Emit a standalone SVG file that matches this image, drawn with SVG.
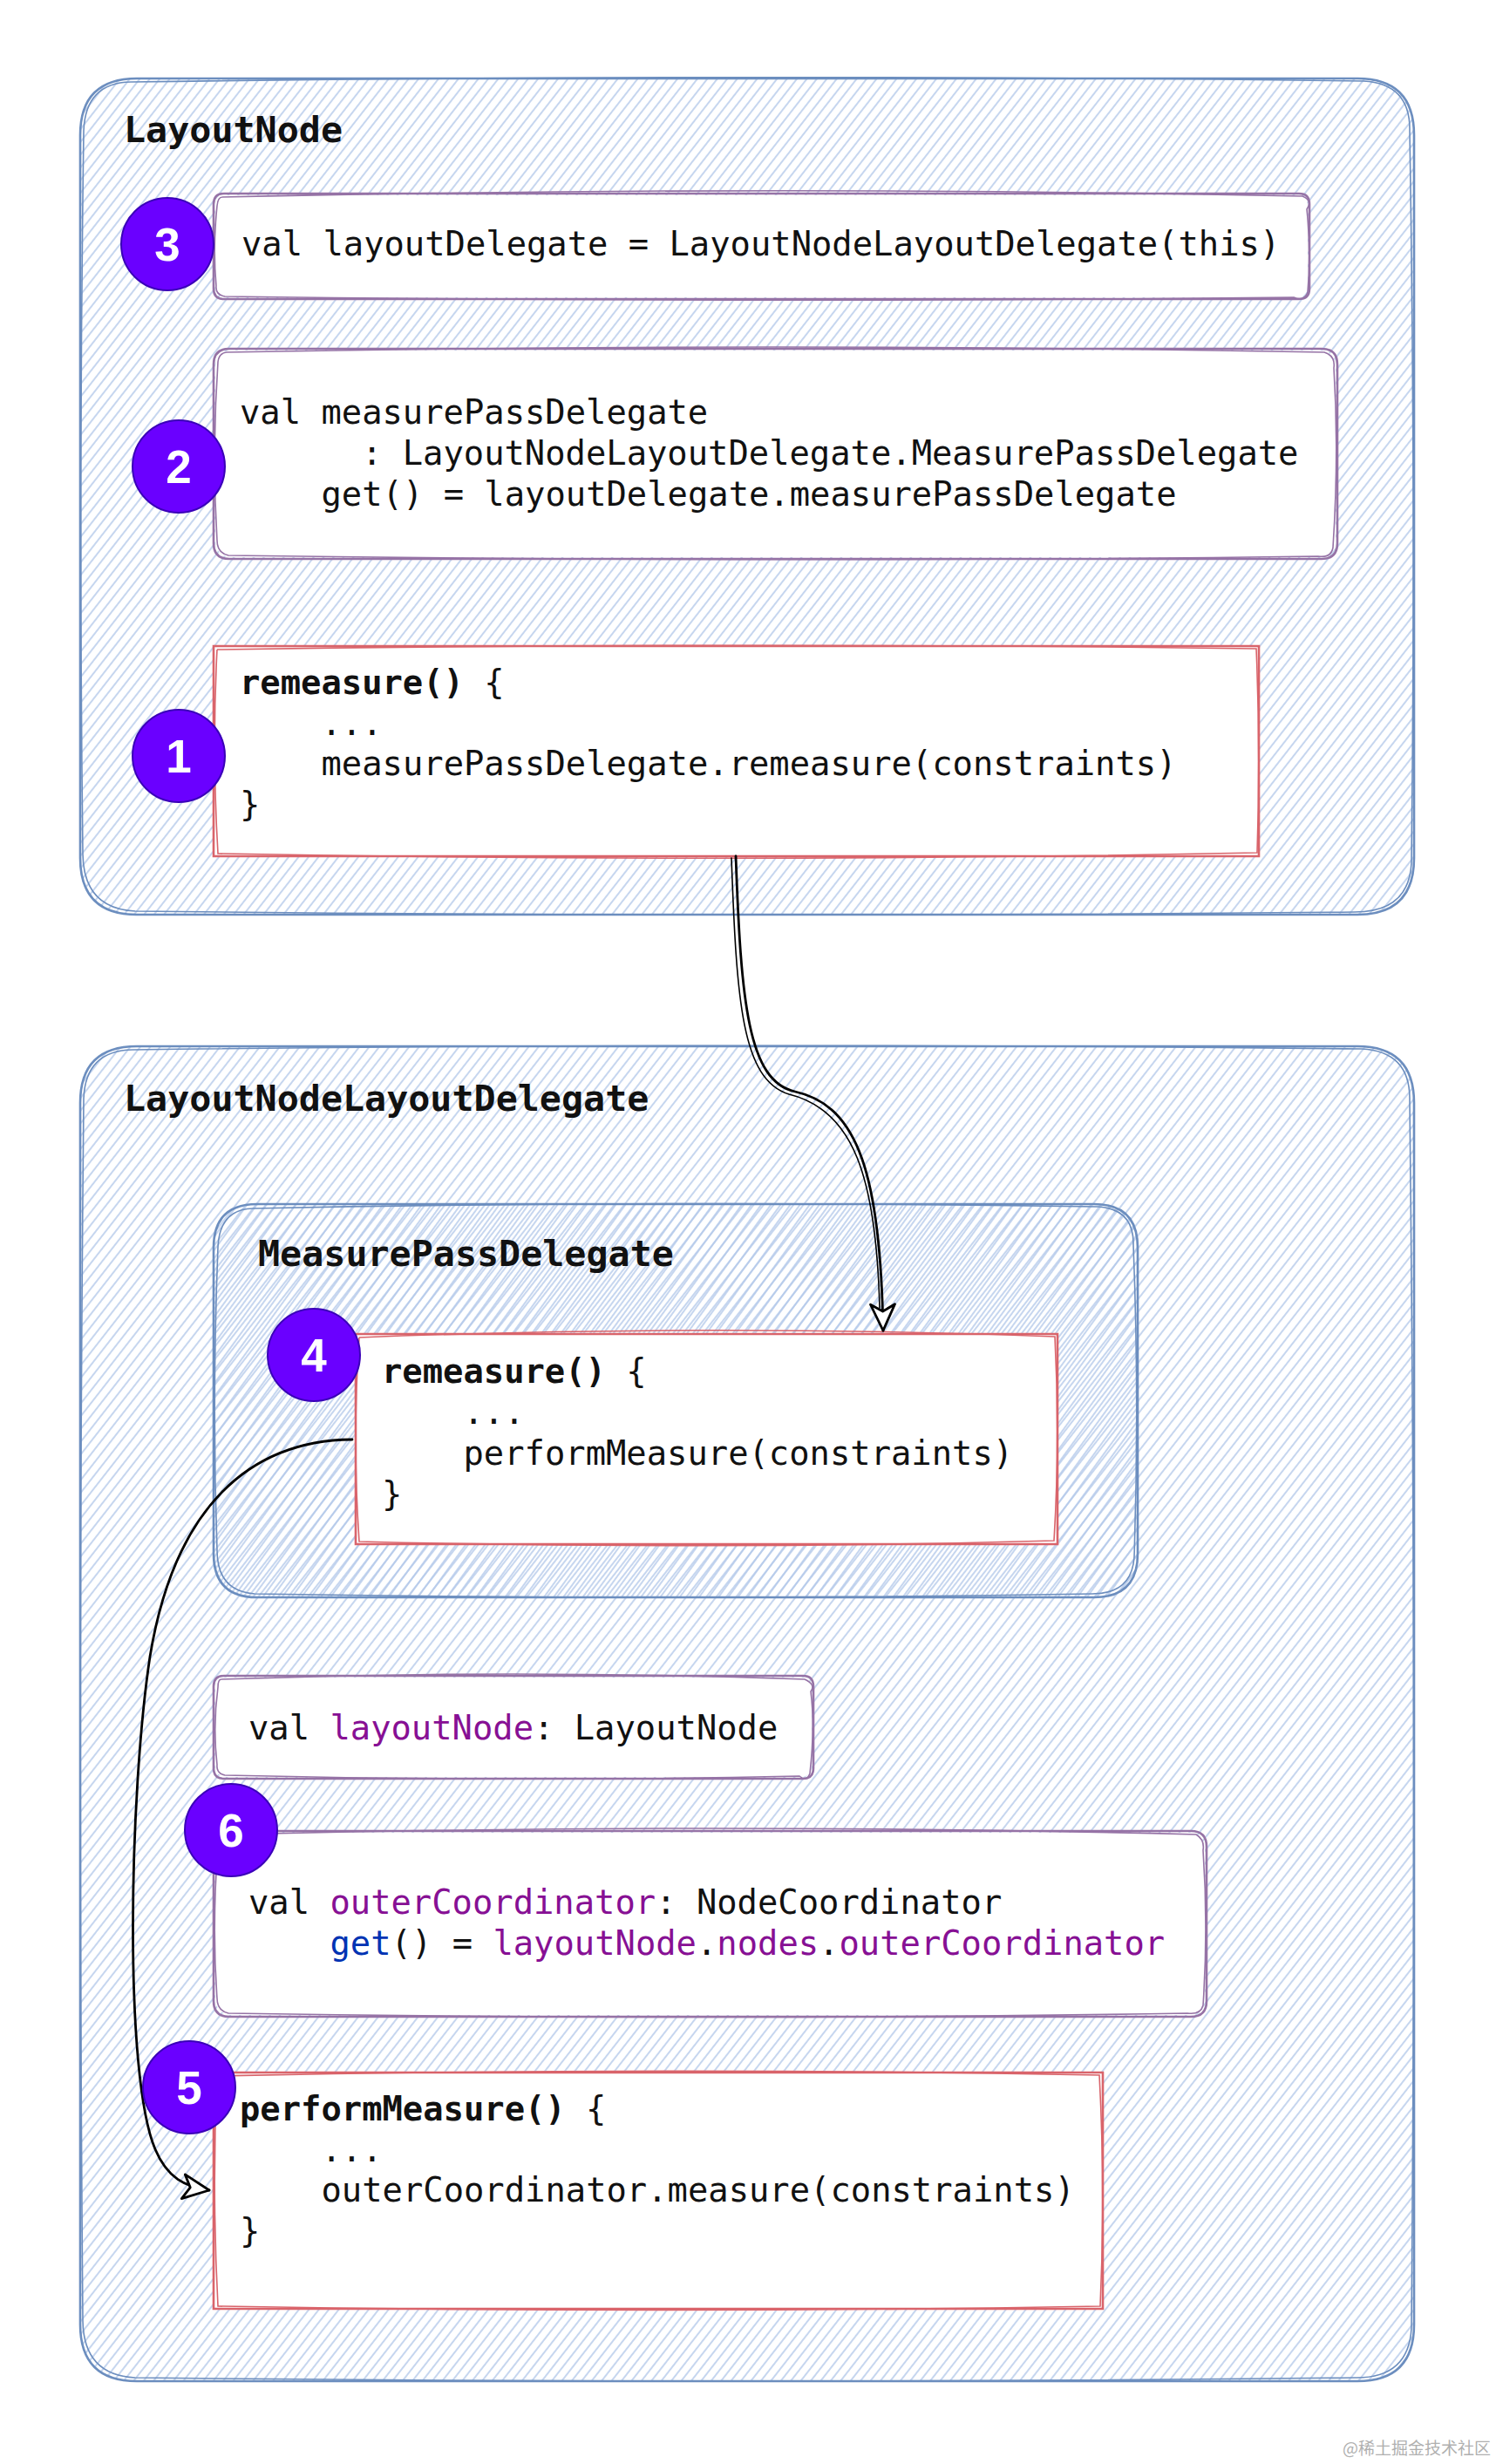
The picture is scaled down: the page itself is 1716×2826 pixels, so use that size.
<svg xmlns="http://www.w3.org/2000/svg" width="1716" height="2826" viewBox="0 0 1716 2826">
<defs>
<style>
.blue{fill:none;stroke:#6c8ebf;stroke-width:2.6;stroke-linejoin:round}
.blue2{fill:none;stroke:#6c8ebf;stroke-width:1.6}
.purple{fill:none;stroke:#9673a6;stroke-width:2.6;stroke-linejoin:round}
.purple2{fill:none;stroke:#9673a6;stroke-width:1.6}
.red{fill:none;stroke:#d9646b;stroke-width:2.6}
.red2{fill:none;stroke:#d9646b;stroke-width:1.6}
.wbg{fill:#ffffff;stroke:none}
.code{font-family:"DejaVu Sans Mono","Liberation Mono",monospace;font-size:38.8px;fill:#111111}
.b{font-weight:bold}
.title{font-family:"DejaVu Sans Mono","Liberation Mono",monospace;font-weight:bold;font-size:41.7px;fill:#111111}
.num{font-family:"Liberation Sans",Arial,sans-serif;font-weight:bold;font-size:53px;fill:#ffffff;text-anchor:middle}
.circ{fill:#6a00ff;stroke:#3a00b8;stroke-width:2}
.pu{fill:#871094}
.kw{fill:#0033b3}
.wire{fill:none;stroke:#000000;stroke-width:2.8;stroke-linecap:round}
.wire2{fill:none;stroke:#000000;stroke-width:1.6;stroke-linecap:round}
.wm{font-family:"Noto Sans CJK SC","Noto Sans",sans-serif;font-size:19px;fill:#b0b0b0;text-anchor:end}
</style>
<pattern id="hach" patternUnits="userSpaceOnUse" width="9" height="9" patternTransform="rotate(38)">
<line x1="2" y1="0" x2="2" y2="9" stroke="#b3c8ea" stroke-width="1.5"/>
</pattern>
<pattern id="hach2" patternUnits="userSpaceOnUse" width="9" height="9" patternTransform="rotate(36) translate(4.5 0)">
<line x1="2" y1="0" x2="2" y2="9" stroke="#b3c8ea" stroke-width="1.5"/>
</pattern>
<marker id="arr" markerUnits="userSpaceOnUse" viewBox="-34 -18 38 36" refX="0" refY="0" markerWidth="38" markerHeight="36" orient="auto">
<path d="M0,0 L-30,-14 L-22,0 L-30,14 Z" fill="#ffffff" stroke="#000000" stroke-width="2.8" stroke-linejoin="round"/>
</marker>
</defs>
<rect x="0" y="0" width="1716" height="2826" fill="#ffffff"/>

<g id="layoutNode">
<path d="M157,90 L1557,90 Q1622,90 1622,155 L1622,984 Q1622,1049 1557,1049 L157,1049 Q92,1049 92,984 L92,155 Q92,90 157,90 Z" fill="url(#hach)"/>
<path class="blue" d="M157,90 L1557,90 Q1622,90 1622,155 L1622,984 Q1622,1049 1557,1049 L157,1049 Q92,1049 92,984 L92,155 Q92,90 157,90 Z"/>
<path class="blue2" d="M150,94 Q860,84 1564,93 Q1618,96 1617,150 Q1624,570 1619,990 Q1616,1046 1554,1046 Q860,1053 155,1045 Q96,1042 95,980 Q90,570 96,150 Q98,95 150,94"/>
<text class="title" x="142" y="163">LayoutNode</text>
</g>

<g id="layoutNodeLayoutDelegate">
<path d="M157,1200 L1557,1200 Q1622,1200 1622,1265 L1622,2666 Q1622,2731 1557,2731 L157,2731 Q92,2731 92,2666 L92,1265 Q92,1200 157,1200 Z" fill="url(#hach)"/>
<path class="blue" d="M157,1200 L1557,1200 Q1622,1200 1622,1265 L1622,2666 Q1622,2731 1557,2731 L157,2731 Q92,2731 92,2666 L92,1265 Q92,1200 157,1200 Z"/>
<path class="blue2" d="M152,1204 Q860,1195 1562,1203 Q1618,1206 1617,1262 Q1625,1966 1619,2670 Q1616,2728 1554,2727 Q860,2735 155,2727 Q96,2724 95,2662 Q89,1966 96,1260 Q98,1205 152,1204"/>
<text class="title" x="142" y="1274">LayoutNodeLayoutDelegate</text>
</g>

<g id="measurePassDelegate">
<path d="M295,1381 L1255,1381 Q1305,1381 1305,1431 L1305,1782 Q1305,1832 1255,1832 L295,1832 Q245,1832 245,1782 L245,1431 Q245,1381 295,1381 Z" fill="url(#hach2)"/>
<path class="blue" d="M295,1381 L1255,1381 Q1305,1381 1305,1431 L1305,1782 Q1305,1832 1255,1832 L295,1832 Q245,1832 245,1782 L245,1431 Q245,1381 295,1381 Z"/>
<path class="blue2" d="M290,1386 Q780,1376 1260,1384 Q1301,1387 1300,1428 Q1307,1606 1301,1786 Q1298,1828 1253,1828 Q780,1836 292,1828 Q249,1825 249,1778 Q243,1606 250,1430 Q252,1387 290,1386"/>
<text class="title" x="296" y="1452">MeasurePassDelegate</text>
</g>

<g id="box3">
<rect class="wbg" x="247" y="224" width="1253" height="117" rx="12"/>
<path class="purple" d="M257,222 L1490,222 Q1502,222 1502,234 L1502,331 Q1502,343 1490,343 L257,343 Q245,343 245,331 L245,234 Q245,222 257,222 Z"/>
<path class="purple2" d="M255,226 Q880,212 1494,225 Q1506,230 1499,240 Q1504,290 1500,335 Q1496,346 1484,341 Q870,348 258,340 Q247,338 248,328 Q244,285 249,236 Q250,226 255,226"/>
<text class="code" x="277" y="293">val layoutDelegate = LayoutNodeLayoutDelegate(this)</text>
</g>

<g id="box2">
<rect class="wbg" x="247" y="402" width="1285" height="237" rx="18"/>
<path class="purple" d="M263,400 L1516,400 Q1534,400 1534,418 L1534,623 Q1534,641 1516,641 L263,641 Q245,641 245,623 L245,418 Q245,400 263,400 Z"/>
<path class="purple2" d="M260,404 Q890,392 1519,404 Q1532,408 1530,422 Q1536,520 1529,628 Q1527,640 1512,638 Q890,646 262,637 Q249,634 249,620 Q243,520 250,415 Q251,405 260,404"/>
<text class="code" x="275" y="486">val measurePassDelegate</text>
<text class="code" x="415" y="533">: LayoutNodeLayoutDelegate.MeasurePassDelegate</text>
<text class="code" x="368.5" y="580">get() = layoutDelegate.measurePassDelegate</text>
</g>

<g id="box1">
<rect class="wbg" x="246" y="742" width="1197" height="239"/>
<path class="red" d="M245,741 L1444,741 L1444,982 L245,982 Z"/>
<path class="red2" d="M249,745 Q850,736 1441,744 Q1446,860 1442,978 Q850,990 250,979 Q243,860 249,745"/>
<text class="code" x="275" y="796"><tspan class="b">remeasure()</tspan> {</text>
<text class="code" x="368.5" y="843">...</text>
<text class="code" x="368.5" y="889">measurePassDelegate.remeasure(constraints)</text>
<text class="code" x="275" y="936">}</text>
</g>

<g id="box4">
<rect class="wbg" x="409" y="1531" width="803" height="239"/>
<path class="red" d="M408,1530 L1213,1530 L1213,1771 L408,1771 Z"/>
<path class="red2" d="M412,1534 Q815,1518 1210,1533 Q1216,1650 1209,1767 Q815,1778 412,1768 Q404,1650 412,1534"/>
<text class="code" x="438" y="1586"><tspan class="b">remeasure()</tspan> {</text>
<text class="code" x="531.5" y="1633">...</text>
<text class="code" x="531.5" y="1680">performMeasure(constraints)</text>
<text class="code" x="438" y="1727">}</text>
</g>

<g id="boxLayoutNodeField">
<rect class="wbg" x="247" y="1924" width="684" height="114" rx="12"/>
<path class="purple" d="M257,1922 L921,1922 Q933,1922 933,1934 L933,2028 Q933,2040 921,2040 L257,2040 Q245,2040 245,2028 L245,1934 Q245,1922 257,1922 Z"/>
<path class="purple2" d="M254,1926 Q590,1914 923,1926 Q936,1932 930,1940 Q935,1980 929,2034 Q925,2044 917,2037 Q590,2044 258,2036 Q248,2034 249,2024 Q244,1980 250,1935 Q250,1926 254,1926"/>
<text class="code" x="285" y="1995">val <tspan class="pu">layoutNode</tspan>: LayoutNode</text>
</g>

<g id="box6">
<rect class="wbg" x="247" y="2102" width="1135" height="209" rx="18"/>
<path class="purple" d="M263,2100 L1366,2100 Q1384,2100 1384,2118 L1384,2295 Q1384,2313 1366,2313 L263,2313 Q245,2313 245,2295 L245,2118 Q245,2100 263,2100 Z"/>
<path class="purple2" d="M262,2104 Q820,2090 1372,2104 Q1382,2110 1380,2122 Q1386,2210 1380,2300 Q1377,2311 1362,2309 Q820,2318 262,2309 Q249,2306 249,2292 Q243,2210 250,2116 Q251,2105 262,2104"/>
<text class="code" x="285" y="2195">val <tspan class="pu">outerCoordinator</tspan>: NodeCoordinator</text>
<text class="code" x="378.5" y="2242"><tspan class="kw">get</tspan>() = <tspan class="pu">layoutNode</tspan>.<tspan class="pu">nodes</tspan>.<tspan class="pu">outerCoordinator</tspan></text>
</g>

<g id="box5">
<rect class="wbg" x="246" y="2378" width="1018" height="269"/>
<path class="red" d="M245,2377 L1265,2377 L1265,2648 L245,2648 Z"/>
<path class="red2" d="M249,2381 Q760,2370 1261,2380 Q1268,2512 1262,2645 Q760,2654 250,2645 Q243,2512 249,2381"/>
<text class="code" x="275" y="2432"><tspan class="b">performMeasure()</tspan> {</text>
<text class="code" x="368.5" y="2479">...</text>
<text class="code" x="368.5" y="2525">outerCoordinator.measure(constraints)</text>
<text class="code" x="275" y="2572">}</text>
</g>

<g id="connectors">
<path class="wire" d="M844,982 C850,1150 858,1240 912,1252 C985,1268 1010,1350 1013,1526" marker-end="url(#arr)"/>
<path class="wire2" d="M839,984 C845,1150 851,1238 905,1255 C979,1273 1005,1350 1009,1500"/>
<path class="wire" d="M404,1651 C285,1652 200,1730 172,1900 C148,2060 142,2380 178,2465 C192,2498 212,2508 240,2512" marker-end="url(#arr)"/>
</g>

<g id="badge3"><circle class="circ" cx="192" cy="280" r="53"/><text class="num" x="192" y="299">3</text></g>
<g id="badge2"><circle class="circ" cx="205" cy="535" r="53"/><text class="num" x="205" y="554">2</text></g>
<g id="badge1"><circle class="circ" cx="205" cy="867" r="53"/><text class="num" x="205" y="886">1</text></g>
<g id="badge4"><circle class="circ" cx="360" cy="1554" r="53"/><text class="num" x="360" y="1573">4</text></g>
<g id="badge6"><circle class="circ" cx="265" cy="2099" r="53"/><text class="num" x="265" y="2118">6</text></g>
<g id="badge5"><circle class="circ" cx="217" cy="2394" r="53"/><text class="num" x="217" y="2413">5</text></g>

<text class="wm" x="1710" y="2815">@稀土掘金技术社区</text>
</svg>
